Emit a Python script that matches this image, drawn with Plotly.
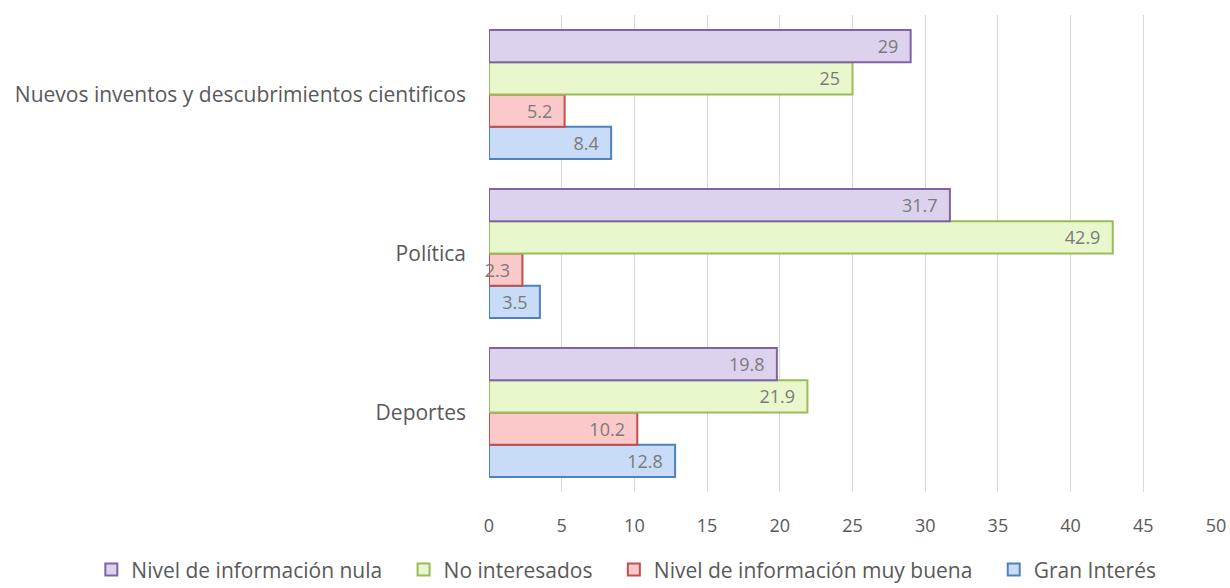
import plotly.graph_objects as go

categories = ["Deportes", "Política", "Nuevos inventos y descubrimientos cientificos"]
gran_interes = [12.8, 3.5, 8.4]
muy_buena = [10.2, 2.3, 5.2]
no_interesados = [21.9, 42.9, 25]
info_nula = [19.8, 31.7, 29]

series = [
    ("Gran Interés", gran_interes, "#c9dcf7", "#4f81bd"),
    ("Nivel de información muy buena", muy_buena, "#fbc9c9", "#c0504d"),
    ("No interesados", no_interesados, "#e9f8cc", "#9bbb59"),
    ("Nivel de información nula", info_nula, "#ddd2ee", "#8064a2"),
]

FONT = "Open Sans"
PAD = "\u00a0" * 3
fig = go.Figure()
for name, vals, fill, line in series:
    fig.add_trace(go.Bar(
        y=categories, x=vals, name=name + PAD, orientation="h",
        marker=dict(color=fill, line=dict(color=line, width=2)),
        text=[f"{v}\u00a0\u00a0" for v in vals], textposition="inside",
        insidetextanchor="end",
        textfont=dict(family=FONT, size=18, color="#7a7a7a"),
        constraintext="none", cliponaxis=False,
    ))

fig.update_layout(
    width=1230, height=588,
    barmode="group", bargap=0.19, bargroupgap=0,
    plot_bgcolor="white", paper_bgcolor="white",
    margin=dict(l=489, r=14, t=15, b=96, autoexpand=False),
    font=dict(family=FONT, color="#595959"),
    legend=dict(orientation="h", traceorder="reversed", x=-0.547, xanchor="left",
                y=-0.163, yanchor="middle", font=dict(size=21, color="#595959"),
                itemwidth=30),
    showlegend=True,
)
fig.update_xaxes(range=[0, 50], dtick=5, showgrid=True, gridcolor="#d9d9d9", gridwidth=1.3,
                 zeroline=False, showline=False, tickfont=dict(size=18, color="#595959"),
                 ticks="outside", ticklen=0, ticklabelstandoff=17, automargin=False)
fig.update_yaxes(showgrid=False, showline=False, zeroline=False, automargin=False,
                 tickfont=dict(size=21, color="#595959"), ticklabelstandoff=22)

fig.write_html("out.html", config={"displayModeBar": False},
               post_script="document.body.style.margin='0';document.body.style.overflow='hidden';")
